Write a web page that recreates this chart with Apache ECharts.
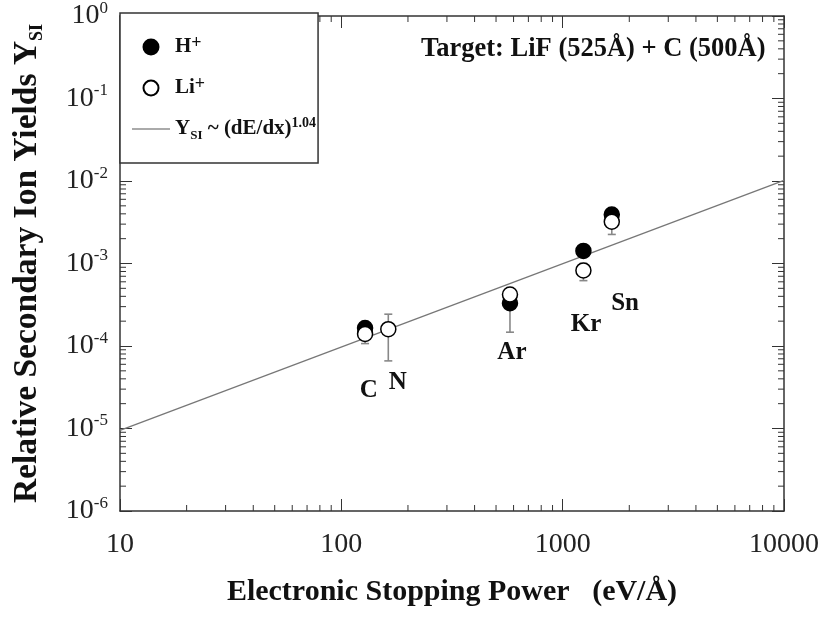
<!DOCTYPE html>
<html><head><meta charset="utf-8">
<script src="https://cdn.jsdelivr.net/npm/echarts@6/dist/echarts.min.js"></script>
<style>html,body{margin:0;padding:0;background:#fff}#c{width:823px;height:617px}</style>
</head><body><div id="c"></div>
<script>
// ---- data ----
const elements = ['C', 'N', 'Ar', 'Kr', 'Sn'];
const hPower = [128, 578, 1241, 1667];
const hYield = [1.65e-4, 3.3e-4, 1.42e-3, 3.93e-3];
const hErrLow = [null, 1.47e-4, null, null];
const hErrHigh = [null, 4.8e-4, null, null];
const liPower = [128, 163, 578, 1241, 1667];
const liYield = [1.40e-4, 1.60e-4, 4.2e-4, 8.24e-4, 3.21e-3];
const liErrLow = [1.07e-4, 6.6e-5, null, 6.2e-4, 2.25e-3];
const liErrHigh = [1.7e-4, 2.43e-4, null, 1.0e-3, 3.9e-3];
const fitPower = [10, 10000];
const fitYield = [9.5e-6, 1.02e-2];
const labelPower = [133, 180, 590, 1276, 1914];
const labelYield = [2.87e-5, 3.58e-5, 8.24e-5, 1.84e-4, 3.3e-4];
const xTickLabels = ['10', '100', '1000', '10000'];
const yExponents = ['-6', '-5', '-4', '-3', '-2', '-1', '0'];
const xDecades = [10, 100, 1000];
const yDecades = [1e-6, 1e-5, 1e-4, 1e-3, 1e-2, 1e-1];
const minorMultipliers = [2, 3, 4, 5, 6, 7, 8, 9];

const FONT = 'Liberation Serif';
const AX = '#333';
const X_MIN = 10, X_MAX = 10000, Y_MIN = 1e-6, Y_MAX = 1;

const xMinor = [];
xDecades.forEach(d => minorMultipliers.forEach(m => xMinor.push([d * m])));
const yMinor = [];
yDecades.forEach(d => minorMultipliers.forEach(m => yMinor.push([d * m])));

function errData(px, lo, hi) {
  const out = [];
  px.forEach((x, i) => { if (lo[i] != null) out.push([x, lo[i], hi[i]]); });
  return out;
}
const errAll = errData(hPower, hErrLow, hErrHigh).concat(errData(liPower, liErrLow, liErrHigh));

function errRender(params, api) {
  const x = api.value(0), lo = api.value(1), hi = api.value(2);
  const pl = api.coord([x, lo]), ph = api.coord([x, hi]);
  const cap = 4, st = { stroke: '#888', lineWidth: 1.6 };
  return { type: 'group', children: [
    { type: 'line', shape: { x1: pl[0], y1: pl[1], x2: ph[0], y2: ph[1] }, style: st },
    { type: 'line', shape: { x1: pl[0] - cap, y1: pl[1], x2: pl[0] + cap, y2: pl[1] }, style: st },
    { type: 'line', shape: { x1: ph[0] - cap, y1: ph[1], x2: ph[0] + cap, y2: ph[1] }, style: st }
  ]};
}
const MINOR = 6;
function xMinorRender(params, api) {
  const v = api.value(0);
  const b = api.coord([v, Y_MIN]), t = api.coord([v, Y_MAX]);
  const st = { stroke: AX, lineWidth: 1 };
  return { type: 'group', children: [
    { type: 'line', shape: { x1: b[0], y1: b[1], x2: b[0], y2: b[1] - MINOR }, style: st },
    { type: 'line', shape: { x1: t[0], y1: t[1], x2: t[0], y2: t[1] + MINOR }, style: st }
  ]};
}
function yMinorRender(params, api) {
  const v = api.value(0);
  const l = api.coord([X_MIN, v]), r = api.coord([X_MAX, v]);
  const st = { stroke: AX, lineWidth: 1 };
  return { type: 'group', children: [
    { type: 'line', shape: { x1: l[0], y1: l[1], x2: l[0] + MINOR, y2: l[1] }, style: st },
    { type: 'line', shape: { x1: r[0], y1: r[1], x2: r[0] - MINOR, y2: r[1] }, style: st }
  ]};
}

const chart = echarts.init(document.getElementById('c'), null, { renderer: 'canvas' });
const axisCommon = {
  type: 'log', logBase: 10,
  axisLine: { show: true, onZero: false, lineStyle: { color: AX, width: 1.5 } },
  axisTick: { show: true, inside: true, length: 12, lineStyle: { color: AX, width: 1 } },
  splitLine: { show: false },
  minorTick: { show: false }
};
const option = {
  animation: false,
  backgroundColor: '#fff',
  textStyle: { fontFamily: FONT },
  grid: { left: 120, right: 39, top: 13, bottom: 106, containLabel: false },
  title: {
    text: 'Target: LiF (525Å) + C (500Å)',
    left: 416, top: 31,
    textStyle: { fontFamily: FONT, fontWeight: 'bold', fontSize: 26.5, color: '#111' }
  },
  legend: {
    left: 120, top: 13, orient: 'vertical',
    backgroundColor: '#fff', borderColor: AX, borderWidth: 1.5,
    padding: [21, 2, 21, 12], itemGap: 17.5, itemWidth: 38, itemHeight: 15,
    data: [
      { name: 'H+' },
      { name: 'Li+' },
      { name: 'fit', icon: 'path://M0,0 L38,0 L38,2 L0,2 Z', itemStyle: { color: '#aaa' } }
    ],
    formatter: function (name) {
      if (name === 'H+') return '{b|H}{sup2|+}';
      if (name === 'Li+') return '{b|Li}{sup2|+}';
      return '{b|Y}{sub|SI}{b| ~ (dE/dx)}{sup|1.04}';
    },
    textStyle: {
      fontFamily: FONT, color: '#111',
      rich: {
        b: { fontFamily: FONT, fontWeight: 'bold', fontSize: 21, lineHeight: 26 },
        sup: { fontFamily: FONT, fontWeight: 'bold', fontSize: 14, verticalAlign: 'top', lineHeight: 26 },
        sup2: { fontFamily: FONT, fontWeight: 'bold', fontSize: 18, verticalAlign: 'top', lineHeight: 26 },
        sub: { fontFamily: FONT, fontWeight: 'bold', fontSize: 13, verticalAlign: 'bottom', lineHeight: 26 }
      }
    }
  },
  xAxis: [
    Object.assign({}, axisCommon, {
      min: X_MIN, max: X_MAX, splitNumber: 3, position: 'bottom',
      name: 'Electronic Stopping Power   (eV/Å)', nameLocation: 'middle', nameGap: 66,
      nameTextStyle: { fontFamily: FONT, fontWeight: 'bold', fontSize: 30, color: '#111' },
      axisLabel: {
        show: true, margin: 20, fontFamily: FONT, fontSize: 28, color: '#222',
        formatter: function (v, i) { return xTickLabels[Math.round(Math.log10(v)) - 1]; }
      }
    }),
    Object.assign({}, axisCommon, {
      min: X_MIN, max: X_MAX, splitNumber: 3, position: 'top',
      axisLabel: { show: false }
    })
  ],
  yAxis: [
    Object.assign({}, axisCommon, {
      min: Y_MIN, max: Y_MAX, interval: 1, splitNumber: 6, position: 'left',
      name: '{b|Relative Secondary Ion Yields Y}{sub|SI}', nameLocation: 'middle', nameGap: 74,
      nameRotate: 90,
      nameTextStyle: {
        color: '#111',
        rich: {
          b: { fontFamily: FONT, fontWeight: 'bold', fontSize: 33.5, lineHeight: 38 },
          sub: { fontFamily: FONT, fontWeight: 'bold', fontSize: 18, verticalAlign: 'bottom', lineHeight: 38 }
        }
      },
      axisLabel: {
        show: true, margin: 12, color: '#222',
        formatter: function (v) {
          const e = Math.round(Math.log10(v));
          return '{b|10}{s|' + yExponents[e + 6] + '}';
        },
        rich: {
          b: { fontFamily: FONT, fontSize: 28, lineHeight: 32, color: '#222' },
          s: { fontFamily: FONT, fontSize: 17, verticalAlign: 'top', lineHeight: 32, color: '#222' }
        }
      }
    }),
    Object.assign({}, axisCommon, {
      min: Y_MIN, max: Y_MAX, interval: 1, splitNumber: 6, position: 'right',
      axisLabel: { show: false }
    })
  ],
  series: [
    { name: 'xMinor', type: 'custom', renderItem: xMinorRender, data: xMinor,
      encode: { x: 0 }, silent: true, z: 1, clip: false },
    { name: 'yMinor', type: 'custom', renderItem: yMinorRender, data: yMinor,
      encode: { y: 0 }, silent: true, z: 1, clip: false },
    { name: 'fit', type: 'line', data: fitPower.map((x, i) => [x, fitYield[i]]),
      showSymbol: false, symbol: 'none', lineStyle: { color: '#777', width: 1.3 },
      itemStyle: { color: '#aaa' }, z: 2, silent: true },
    { name: 'err', type: 'custom', renderItem: errRender, data: errAll,
      encode: { x: 0, y: [1, 2] }, silent: true, z: 3 },
    { name: 'H+', type: 'scatter', data: hPower.map((x, i) => [x, hYield[i]]),
      symbol: 'circle', symbolSize: 15,
      itemStyle: { color: '#000', borderColor: '#000', borderWidth: 1.5, opacity: 1 }, z: 4 },
    { name: 'Li+', type: 'scatter', data: liPower.map((x, i) => [x, liYield[i]]),
      symbol: 'circle', symbolSize: 15,
      itemStyle: { color: '#fff', borderColor: '#000', borderWidth: 1.5, opacity: 1 }, z: 5 },
    { name: 'labels', type: 'scatter', symbolSize: 0, silent: true, z: 6,
      itemStyle: { opacity: 1 },
      data: labelPower.map((x, i) => ({ value: [x, labelYield[i]], name: elements[i] })),
      label: { show: true, position: 'inside', formatter: '{b}',
        fontFamily: FONT, fontWeight: 'bold', fontSize: 25, color: '#111' } }
  ]
};
chart.setOption(option);
</script>
</body></html>
